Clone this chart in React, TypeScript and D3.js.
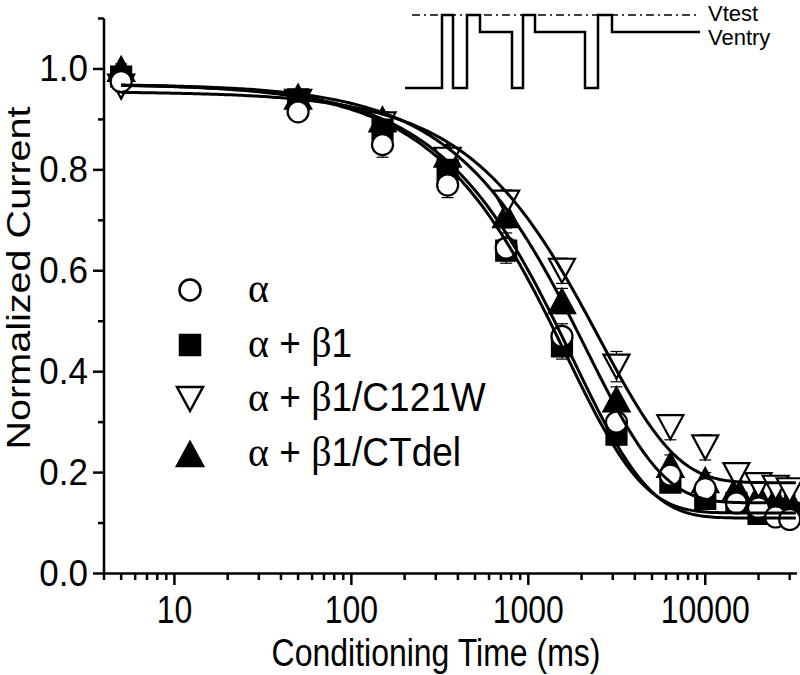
import React from 'react';
import * as d3 from 'd3';

// ---- data ----
const times = [5, 50, 150, 350, 750, 1550, 3150, 6350, 10000, 15000, 20000, 25000, 30000];
const alphaVals = [0.975, 0.915, 0.85, 0.77, 0.645, 0.47, 0.30, 0.195, 0.168, 0.14, 0.13, 0.112, 0.107];
const alphaErr = [0.01, 0.012, 0.025, 0.025, 0.03, 0.025, 0.02, 0.02, 0.015, 0.015, 0.012, 0.01, 0.01];
const beta1Vals = [0.985, 0.94, 0.88, 0.80, 0.64, 0.45, 0.275, 0.18, 0.148, 0.14, 0.118, 0.12, 0.12];
const beta1Err = [0.01, 0.01, 0.015, 0.02, 0.02, 0.025, 0.02, 0.015, 0.012, 0.012, 0.01, 0.01, 0.01];
const c121wVals = [0.965, 0.935, 0.89, 0.82, 0.735, 0.60, 0.41, 0.29, 0.25, 0.195, 0.175, 0.17, 0.165];
const c121wErr = [0.01, 0.01, 0.015, 0.02, 0.025, 0.025, 0.03, 0.025, 0.025, 0.02, 0.02, 0.02, 0.02];
const ctdelVals = [1.0, 0.945, 0.90, 0.83, 0.71, 0.54, 0.345, 0.215, 0.185, 0.17, 0.155, 0.148, 0.145];
const ctdelErr = [0.01, 0.01, 0.015, 0.02, 0.025, 0.025, 0.025, 0.02, 0.015, 0.015, 0.012, 0.012, 0.01];

// legend labels split into [greek, rest] pieces
const seriesGreekA = ['α', 'α', 'α', 'α'];
const seriesPlus = ['', ' + ', ' + ', ' + '];
const seriesGreekB = ['', 'β', 'β', 'β'];
const seriesSuffix = ['', '1', '1/C121W', '1/CTdel'];
const seriesMarkers = ['circle', 'square', 'triDown', 'triUp'];
const seriesFilled = [false, true, false, true];

// single-exponential fit parameters: y = y0 + A * exp(-t / tau)
const fitY0 = [0.11, 0.12, 0.18, 0.14];
const fitA = [0.86, 0.85, 0.775, 0.83];
const fitTau = [1780, 1640, 2530, 2120];

const yMajorTicks = [0, 0.2, 0.4, 0.6, 0.8, 1.0];
const yMinorTicks = [0.1, 0.3, 0.5, 0.7, 0.9, 1.1];
const xMajorTicks = [10, 100, 1000, 10000];

// pulse protocol schematic: levels and relative durations
const protoLevels = ['rest', 'test', 'rest', 'test', 'entry', 'rest', 'test', 'entry', 'rest', 'test', 'entry'];
const protoDurations = [37, 11, 14, 13, 32, 11, 12, 50, 13, 14, 88];

const FONT = "'Liberation Sans', Arial, sans-serif";
const SERIF = "'Liberation Serif', 'Times New Roman', serif";
const VS = 1.2; // vertical stretch of text

function markerPath(kind: string, cx: number, cy: number): string {
  if (kind === 'circle') {
    const r = 10.5;
    return `M${cx - r},${cy}a${r},${r} 0 1,0 ${2 * r},0a${r},${r} 0 1,0 ${-2 * r},0Z`;
  }
  if (kind === 'square') {
    const s = 10;
    return `M${cx - s},${cy - s}h${2 * s}v${2 * s}h${-2 * s}Z`;
  }
  if (kind === 'triUp') {
    const w = 13, h = 12;
    return `M${cx},${cy - h}L${cx + w},${cy + h}L${cx - w},${cy + h}Z`;
  }
  const w = 13, h = 12;
  return `M${cx},${cy + h}L${cx + w},${cy - h}L${cx - w},${cy - h}Z`;
}

export default function App() {
  const W = 800, H = 675;
  const x = d3.scaleLog().domain([4, 33000]).range([104, 797]);
  const y = d3.scaleLinear().domain([0, 1.1]).range([573.5, 18.5]);

  const allVals = [alphaVals, beta1Vals, c121wVals, ctdelVals];
  const allErr = [alphaErr, beta1Err, c121wErr, ctdelErr];

  const xMinorTicks: number[] = [];
  for (let p = 0; p <= 4; p++) {
    for (let m = 2; m <= 9; m++) {
      const v = m * Math.pow(10, p);
      if (v >= 4 && v <= 33000) xMinorTicks.push(v);
    }
  }

  const curveT = d3.range(0, 241).map(i => Math.pow(10, Math.log10(5) + (i / 240) * (Math.log10(32500) - Math.log10(5))));
  const line = d3.line<number>().x(t => x(t));

  // protocol
  const protoX = d3.scaleLinear().domain([0, d3.sum(protoDurations)]).range([405, 700]);
  const protoY: Record<string, number> = { rest: 88, test: 15, entry: 32 };
  let acc = 0;
  let protoD = '';
  protoLevels.forEach((lv, i) => {
    const x0 = protoX(acc);
    const x1 = protoX(acc + protoDurations[i]);
    protoD += (i === 0 ? `M${x0},${protoY[lv]}` : `L${x0},${protoY[lv]}`) + `L${x1},${protoY[lv]}`;
    acc += protoDurations[i];
  });

  const order = [3, 2, 1, 0];
  const legendY = [290, 345, 399, 454];

  return (
    <svg width={W} height={H} style={{ position: 'absolute', left: 0, top: 0, background: '#fff' }} fontFamily={FONT}>
      <rect width={W} height={H} fill="#fff" />
      {/* axes */}
      <g stroke="#000" strokeWidth={2.5} fill="none">
        <line x1={104} y1={y(1.1)} x2={104} y2={573.5} />
        <line x1={104} y1={573.5} x2={797} y2={573.5} />
        {yMajorTicks.map(v => <line key={'ym' + v} x1={93} x2={104} y1={y(v)} y2={y(v)} />)}
        {yMinorTicks.map(v => <line key={'yn' + v} x1={98} x2={104} y1={y(v)} y2={y(v)} />)}
        {xMajorTicks.map(v => <line key={'xm' + v} x1={x(v)} x2={x(v)} y1={573.5} y2={585} />)}
        {xMinorTicks.map(v => <line key={'xn' + v} x1={x(v)} x2={x(v)} y1={573.5} y2={580} />)}
      </g>
      {yMajorTicks.map(v => (
        <text key={'yl' + v} transform={`translate(88,${y(v) + 12}) scale(1,1.08)`} fontSize={35} textAnchor="end">{v.toFixed(1)}</text>
      ))}
      {xMajorTicks.map(v => (
        <text key={'xl' + v} transform={`translate(${x(v)},623) scale(1,${VS})`} fontSize={32} textAnchor="middle">{String(v)}</text>
      ))}
      <text transform={`translate(436,666) scale(1,${VS})`} fontSize={32} textAnchor="middle">Conditioning Time (ms)</text>
      <text transform={`translate(30,278) rotate(-90) scale(${VS},1)`} fontSize={33} textAnchor="middle">Normalized Current</text>

      {/* error bars */}
      <g stroke="#000" strokeWidth={1.2}>
        {order.map(si => times.map((t, i) => {
          const cx = x(t), v = allVals[si][i], e = allErr[si][i];
          return (
            <g key={`e${si}-${i}`}>
              <line x1={cx} x2={cx} y1={y(v - e)} y2={y(v + e)} />
              <line x1={cx - 6} x2={cx + 6} y1={y(v - e)} y2={y(v - e)} />
              <line x1={cx - 6} x2={cx + 6} y1={y(v + e)} y2={y(v + e)} />
            </g>
          );
        }))}
      </g>
      {/* markers */}
      {order.map(si => times.map((t, i) => (
        <path key={`m${si}-${i}`} d={markerPath(seriesMarkers[si], x(t), y(allVals[si][i]))}
          fill={seriesFilled[si] ? '#000' : '#fff'} stroke="#000" strokeWidth={2.2} />
      )))}
      {/* fit curves */}
      {[0, 1, 2, 3].map(si => (
        <path key={'f' + si} d={line.y(t => y(fitY0[si] + fitA[si] * Math.exp(-t / fitTau[si])))(curveT) || ''}
          fill="none" stroke="#000" strokeWidth={3} />
      ))}

      {/* legend */}
      {[0, 1, 2, 3].map(si => (
        <g key={'lg' + si}>
          <path d={markerPath(seriesMarkers[si], 190, legendY[si])} fill={seriesFilled[si] ? '#000' : '#fff'} stroke="#000" strokeWidth={2.5} />
          <text transform={`translate(248,${legendY[si] + 12}) scale(1,1.08)`} fontSize={37} style={{ whiteSpace: 'pre' }}>
            <tspan style={{ fontFamily: SERIF }} fontSize={40}>{seriesGreekA[si]}</tspan>
            <tspan>{seriesPlus[si]}</tspan>
            <tspan style={{ fontFamily: SERIF }} fontSize={40}>{seriesGreekB[si]}</tspan>
            <tspan>{seriesSuffix[si]}</tspan>
          </text>
        </g>
      ))}

      {/* protocol inset */}
      <line x1={412} x2={700} y1={15} y2={15} stroke="#000" strokeWidth={1.3} strokeDasharray="8,4,2,4" />
      <path d={protoD} fill="none" stroke="#000" strokeWidth={2.5} />
      <text x={708} y={21} fontSize={22}>Vtest</text>
      <text x={708} y={45} fontSize={22}>Ventry</text>
    </svg>
  );
}
